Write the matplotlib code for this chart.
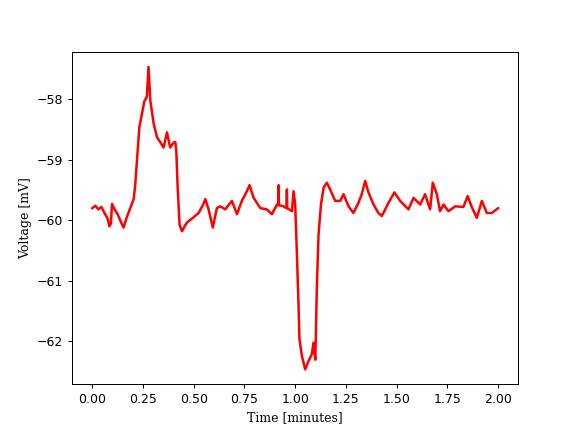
import matplotlib
matplotlib.use('Agg')
import matplotlib.pyplot as plt

# time [minutes] and voltage [mV]
time = [0.000, 0.015, 0.030, 0.045, 0.060, 0.075, 0.085, 0.092, 0.097, 0.110,
        0.125, 0.140, 0.154, 0.170, 0.187, 0.204, 0.212, 0.220, 0.232, 0.245,
        0.256, 0.269, 0.277, 0.286, 0.302, 0.319, 0.335, 0.351, 0.368, 0.384,
        0.400, 0.409, 0.414, 0.420, 0.430, 0.442, 0.455, 0.466, 0.480, 0.499,
        0.524, 0.548, 0.557, 0.573, 0.594, 0.614, 0.631, 0.655, 0.688, 0.713,
        0.737, 0.762, 0.775, 0.795, 0.828, 0.860, 0.885, 0.910, 0.916, 0.918,
        0.920, 0.942, 0.957, 0.959, 0.961, 0.984, 0.992, 1.000, 1.008, 1.016,
        1.021, 1.033, 1.049, 1.066, 1.082, 1.090, 1.099, 1.107, 1.115, 1.127,
        1.140, 1.156, 1.172, 1.197, 1.222, 1.238, 1.263, 1.287, 1.312, 1.328,
        1.345, 1.361, 1.386, 1.410, 1.427, 1.460, 1.489, 1.517, 1.558, 1.583,
        1.616, 1.640, 1.665, 1.678, 1.698, 1.714, 1.731, 1.755, 1.788, 1.829,
        1.850, 1.870, 1.895, 1.920, 1.944, 1.969, 2.000]
voltage = [-59.80, -59.76, -59.82, -59.78, -59.88, -59.97, -60.10, -60.05, -59.73, -59.82,
           -59.90, -60.02, -60.12, -59.95, -59.80, -59.65, -59.40, -59.02, -58.46, -58.24,
           -58.04, -57.96, -57.47, -58.02, -58.40, -58.63, -58.71, -58.80, -58.55, -58.80,
           -58.72, -58.71, -58.85, -59.40, -60.07, -60.18, -60.10, -60.04, -60.00, -59.95,
           -59.88, -59.73, -59.65, -59.82, -60.12, -59.80, -59.77, -59.82, -59.68, -59.90,
           -59.68, -59.52, -59.42, -59.63, -59.80, -59.82, -59.90, -59.74, -59.75, -59.42,
           -59.75, -59.77, -59.80, -59.49, -59.80, -59.85, -59.52, -59.74, -60.52, -61.35,
           -61.96, -62.24, -62.46, -62.32, -62.21, -62.02, -62.30, -61.07, -60.24, -59.74,
           -59.46, -59.38, -59.49, -59.68, -59.68, -59.57, -59.77, -59.88, -59.71, -59.57,
           -59.35, -59.54, -59.74, -59.88, -59.93, -59.71, -59.54, -59.68, -59.82, -59.63,
           -59.74, -59.57, -59.82, -59.38, -59.57, -59.85, -59.74, -59.85, -59.77, -59.78,
           -59.60, -59.78, -59.96, -59.68, -59.88, -59.88, -59.80]

fig, ax = plt.subplots(figsize=(6.4, 4.8), dpi=90)
ax.plot(time, voltage, color='red', linewidth=2.0)
ax.set_xlabel("Time [minutes]", family='DejaVu Serif')
ax.set_ylabel("Voltage [mV]", family='DejaVu Serif')
ax.set_xticks([0.0, 0.25, 0.5, 0.75, 1.0, 1.25, 1.5, 1.75, 2.0])

fig.savefig('out.png')
